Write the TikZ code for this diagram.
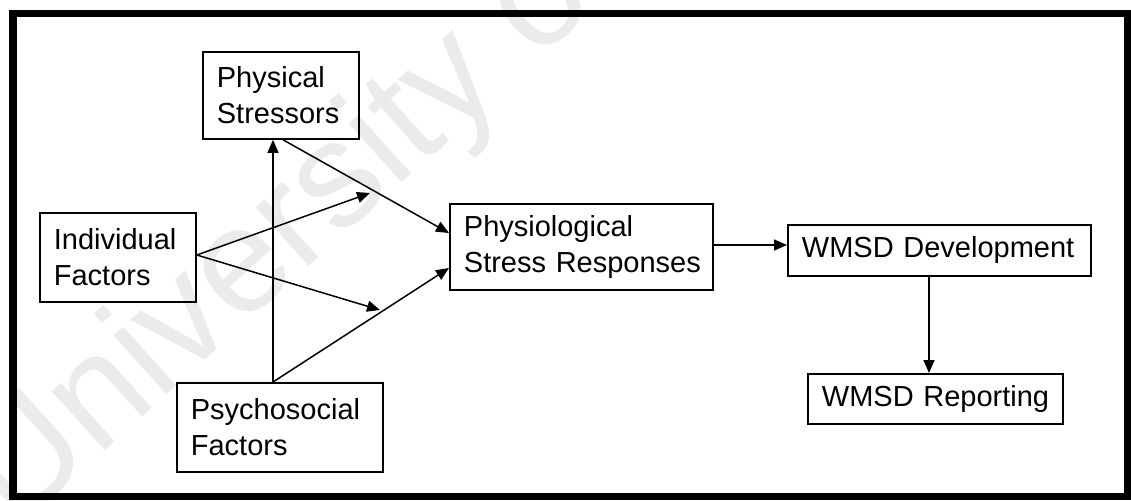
\documentclass[tikz,border=0pt]{standalone}
\usepackage{fontspec}
\setmainfont{Liberation Sans}
\usetikzlibrary{arrows.meta}
\tikzset{
  box/.style={draw, line width=1.8pt, anchor=north west, align=left,
    inner xsep=14pt, inner ysep=0pt, font=\fontsize{29}{36}\selectfont},
  link/.style={line width=1.5pt, -{Triangle[length=13pt,width=11pt]}},
  wmtext/.style={text=black!8, font=\fontsize{150}{150}\selectfont}
}
\begin{document}
\begin{tikzpicture}[x=1pt, y=-1pt]
\useasboundingbox (0,0) rectangle (1131,500);
% faint watermark beneath the diagram
\begin{scope}
\clip (0,0) rectangle (1131,500);
\node[wmtext, rotate=42, anchor=base west] (wm) at (14,532) {University of Cape Town};
\end{scope}
% outer frame
\draw[line width=7.5pt] (13,13.5) rectangle (1128,496.5);
% boxes
\node[box, minimum width=156pt, minimum height=87pt, text width=128pt] (phys) at (202,51) {\mbox{Physical}\\\mbox{Stressors}};
\node[box, minimum width=156pt, minimum height=89pt, text width=128pt] (ind) at (39,212) {\mbox{Individual}\\\mbox{Factors}};
\node[box, minimum width=206pt, minimum height=89pt, text width=178pt] (psy) at (176,382) {\mbox{Psychosocial}\\\mbox{Factors}};
\node[box, minimum width=263pt, minimum height=86pt, text width=235pt] (resp) at (449,203) {\mbox{Physiological}\\\mbox{Stress Responses}};
\node[box, minimum width=303pt, minimum height=51pt, text width=275pt] (dev) at (787,224) {\mbox{WMSD Development}};
\node[box, minimum width=255pt, minimum height=50pt, text width=227pt] (rep) at (807,373) {\mbox{WMSD Reporting}};
% helper coordinates
\coordinate (vx) at (273,0);
\coordinate (sx) at (283,0);
\coordinate (fan) at (0,255);
\coordinate (ty1) at (0,233);
\coordinate (ty2) at (0,268);
\coordinate (hy) at (0,245);
\coordinate (dx) at (929,0);
\coordinate (modA) at (370,193);
\coordinate (modB) at (380,310);
% connectors
\draw[link] (psy.north -| vx) -- (phys.south -| vx);
\draw[link] (phys.south -| sx) -- (resp.west |- ty1);
\draw[link] (ind.east |- fan) -- (modA);
\draw[link] (ind.east |- fan) -- (modB);
\draw[link] (psy.north -| vx) -- (resp.west |- ty2);
\draw[link] (resp.east |- hy) -- (dev.west |- hy);
\draw[link] (dev.south -| dx) -- (rep.north -| dx);
\end{tikzpicture}
\end{document}
